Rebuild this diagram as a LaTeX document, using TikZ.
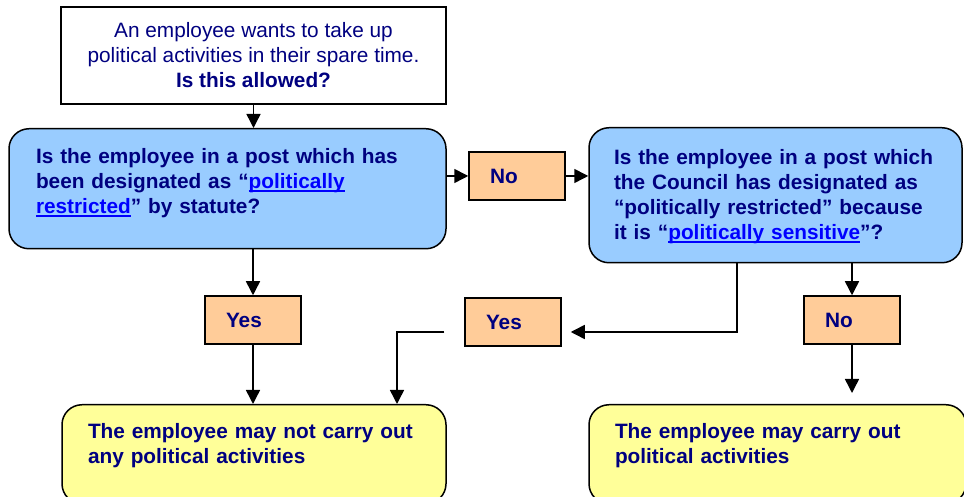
\documentclass[tikz,border=0pt]{standalone}
\usepackage{fontspec}
\setmainfont{Liberation Sans}
\usepackage{tikz}
\usetikzlibrary{arrows.meta}
\definecolor{navy}{HTML}{000080}
\definecolor{linkblue}{HTML}{0000FF}
\definecolor{qblue}{HTML}{99CCFF}
\definecolor{aorange}{HTML}{FFCC99}
\definecolor{ryellow}{HTML}{FFFF99}
\newcommand{\chartfont}{\fontsize{20.8}{25}\selectfont}
\newcommand{\weblink}[1]{\textcolor{linkblue}{\setbox0=\hbox{#1}\rlap{\rule[-3pt]{\wd0}{1.5pt}}\box0}}
\tikzstyle{startbox} = [rectangle, minimum width=385pt, minimum height=97pt, align=center, draw=black, line width=1.5pt, fill=white, text=navy, font=\chartfont]
\tikzstyle{question} = [rectangle, rounded corners=20pt, anchor=north, inner xsep=27pt, inner ysep=0pt, align=left, draw=black, line width=1.5pt, fill=qblue, text=navy, font=\chartfont\bfseries]
\tikzstyle{answer} = [rectangle, minimum width=96pt, minimum height=48pt, text width=54pt, inner xsep=21pt, align=left, draw=black, line width=1.5pt, fill=aorange, text=navy, font=\chartfont\bfseries]
\tikzstyle{outcome} = [rectangle, rounded corners=20pt, anchor=north, inner xsep=26pt, inner ysep=0pt, text height=34pt, text depth=65pt, align=left, draw=black, line width=1.5pt, fill=ryellow, text=navy, font=\chartfont\bfseries]
\tikzstyle{arrow} = [line width=1.5pt, ->, >={Triangle[length=14pt, width=14pt]}]

\begin{document}
\begin{tikzpicture}[x=1pt, y=1pt]

\useasboundingbox (0,0) rectangle (964,497);

\node (start) [startbox] at (253.5,441.5) {An employee wants to take up\\political activities in their spare time.\\\textbf{Is this allowed?}};
\node (q1) [question, text width=383pt, text height=35pt, text depth=85pt] at (227.5,369) {Is the employee in a post which has\\been designated as “\weblink{politically}\\\weblink{restricted}” by statute?};
\node (no1) [answer] at (517,321) {No};
\node (q2) [question, text width=323pt, inner xsep=25pt, text height=37pt, text depth=98pt] at (775.5,370) {Is the employee in a post which\\the Council has designated as\\“politically restricted” because\\it is “\weblink{politically sensitive}”?};
\node (yes1) [answer] at (253,177) {Yes};
\node (yes2) [answer] at (513,175) {Yes};
\node (no2) [answer] at (852,177) {No};
\node (notallowed) [outcome, text width=332pt] at (254,93) {The employee may not carry out\\any political activities};
\node (allowed) [outcome, text width=325pt] at (777.5,93) {The employee may carry out\\political activities};

\coordinate (q2turn) at (737,165);
\coordinate (yesdrop) at (397,165);

\draw [arrow] (start.south) -- (start.south |- q1.north);
\draw [arrow] (q1.east |- no1) -- (no1);
\draw [arrow] (no1) -- (no1 -| q2.west);
\draw [arrow] (yes1 |- q1.south) -- (yes1);
\draw [arrow] (yes1) -- (yes1 |- notallowed.north);
\draw [arrow, shorten >=9pt] (q2turn |- q2.south) |- (yes2.east |- q2turn);
\draw [arrow, shorten <=20pt] (yes2.west |- yesdrop) -| (notallowed.north -| yesdrop);
\draw [arrow] (no2 |- q2.south) -- (no2);
\draw [arrow, shorten >=11pt] (no2) -- (no2 |- allowed.north);

\end{tikzpicture}
\end{document}
